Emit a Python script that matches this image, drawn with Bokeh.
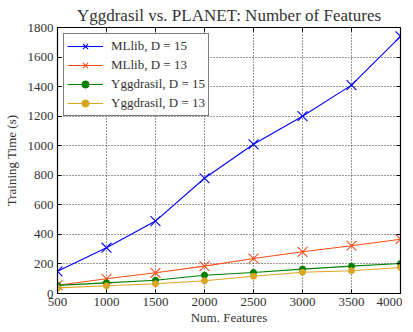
from bokeh.plotting import figure
from bokeh.models import LinearAxis, Legend, LegendItem, FixedTicker, Range1d
from bokeh.embed import file_html
from bokeh.resources import INLINE

features = [500, 1000, 1500, 2000, 2500, 3000, 3500, 4000]
mllib_15 = [150, 310, 490, 780, 1010, 1200, 1410, 1740]
mllib_13 = [56, 100, 140, 185, 237, 282, 323, 367]
ygg_15 = [55, 72, 90, 124, 142, 165, 185, 203]
ygg_13 = [38, 52, 66, 86, 117, 144, 154, 176]
x_ticks = [500, 1000, 1500, 2000, 2500, 3000, 3500, 4000]
y_ticks = [0, 200, 400, 600, 800, 1000, 1200, 1400, 1600, 1800]

FONT = "Liberation Serif"
TXT = "#333333"

p = figure(frame_width=343, frame_height=266, output_backend="svg", toolbar_location=None,
           x_range=Range1d(500, 4000), y_range=Range1d(0, 1800),
           title="Yggdrasil vs. PLANET: Number of Features",
           min_border_left=50, min_border_right=2, min_border_top=0, min_border_bottom=2)
p.title.align = "center"
p.title.text_font = FONT
p.title.text_font_size = "17px"
p.title.text_font_style = "normal"
p.title.text_color = TXT
p.title.standoff = 6
p.outline_line_color = "black"
p.outline_line_width = 1.2

for ax in (p.xaxis[0], p.yaxis[0]):
    ax.major_label_text_font = FONT
    ax.major_label_text_font_size = "13px"
    ax.major_label_text_color = TXT
    ax.axis_label_text_font = FONT
    ax.axis_label_text_font_size = "13px"
    ax.axis_label_text_font_style = "normal"
    ax.axis_label_text_color = TXT
    ax.major_tick_in = 4
    ax.major_tick_out = 0
    ax.minor_tick_line_color = None
    ax.axis_line_color = "black"
    ax.major_label_standoff = 4
p.xaxis[0].ticker = FixedTicker(ticks=x_ticks)
p.yaxis[0].ticker = FixedTicker(ticks=y_ticks)
p.xaxis[0].axis_label = "Num. Features"
p.yaxis[0].axis_label = "Training Time (s)"
p.xaxis[0].axis_label_standoff = 1
p.yaxis[0].axis_label_standoff = 6

ax_r = LinearAxis(ticker=FixedTicker(ticks=y_ticks), major_label_text_color=None,
                  major_label_text_font_size="1px", major_label_standoff=0,
                  major_tick_in=4, major_tick_out=0, minor_tick_line_color=None)
ax_t = LinearAxis(ticker=FixedTicker(ticks=x_ticks), major_label_text_color=None,
                  major_label_text_font_size="1px", major_label_standoff=0,
                  major_tick_in=4, major_tick_out=0, minor_tick_line_color=None)
p.add_layout(ax_r, "right")
p.add_layout(ax_t, "above")

for g in (p.xgrid[0], p.ygrid[0]):
    g.grid_line_color = "black"
    g.grid_line_dash = "1 2"
    g.grid_line_alpha = 0.8
    g.grid_line_width = 1
p.xgrid[0].ticker = FixedTicker(ticks=x_ticks)
p.ygrid[0].ticker = FixedTicker(ticks=y_ticks)

series = [
    ("MLlib, D = 15", mllib_15, "#0000ff", "x", 14),
    ("MLlib, D = 13", mllib_13, "#ff4f1a", "x", 14),
    ("Yggdrasil, D = 15", ygg_15, "#008000", "circle", 6),
    ("Yggdrasil, D = 13", ygg_13, "#daa520", "circle", 6),
]
items = []
for label, ys, col, mk, sz in series:
    r1 = p.line(features, ys, line_color=col, line_width=1.1)
    if mk == "x":
        r2 = p.scatter(features, ys, marker="x", size=sz, line_color=col, line_width=1.1)
    else:
        r2 = p.scatter(features, ys, marker="circle", size=sz, fill_color=col, line_color=col)
    items.append(LegendItem(label=label, renderers=[r1, r2]))

leg = Legend(items=items, location="top_left", label_text_font=FONT,
             label_text_font_size="13px", label_text_color=TXT,
             border_line_color="black", border_line_width=1.2,
             glyph_width=36, label_standoff=8, spacing=1, padding=3,
             margin=6, label_height=18, glyph_height=18)
p.add_layout(leg)

open("out.html", "w").write(file_html(p, INLINE))
